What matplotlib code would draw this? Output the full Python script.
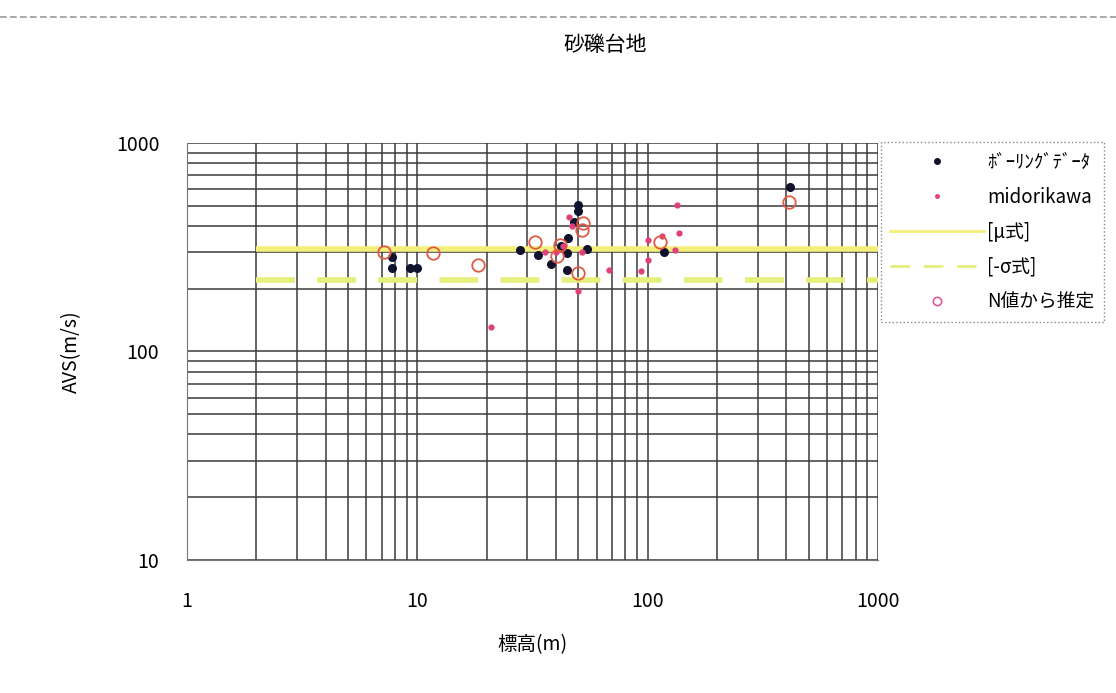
import matplotlib
matplotlib.use("Agg")
import matplotlib.pyplot as plt
from matplotlib.lines import Line2D

plt.rcParams["font.family"] = ["Noto Sans CJK JP", "DejaVu Sans"]

# ボーリングデータ (black dots)
boring_x = [7.8, 7.8, 9.3, 10, 28, 33.5, 38, 42, 44.5, 44.5, 45, 48, 50, 50, 54.4, 118, 415]
boring_y = [284, 251, 251, 251, 307, 290, 263, 320, 297, 246, 350, 420, 505, 470, 310, 299, 613]

# midorikawa (small pink dots)
mido_x = [20.9, 36, 40, 43, 45.7, 47, 49.7, 52, 68, 94, 100, 100.7, 115, 131, 134, 137]
mido_y = [131, 300, 300, 320, 443, 400, 194, 300, 246, 244, 275, 343, 356, 307, 505, 369]

# N値から推定 (hollow circles)
nval_x = [7.17, 11.7, 18.4, 32.4, 40.4, 41.6, 50, 51.9, 52.6, 113, 412]
nval_y = [301, 298, 260, 336, 287, 324, 237, 382, 412, 335, 523]

# formula lines
line_x = [2, 1000]
mu_y = [310, 310]
sigma_y = [220, 220]

fig = plt.figure(figsize=(11.16, 6.93), dpi=100)
ax = fig.add_axes([0.1676, 0.1919, 0.6191, 0.6018])
ax.set_xscale("log")
ax.set_yscale("log")
ax.set_xlim(1, 1000)
ax.set_ylim(10, 1000)

ax.grid(True, which="both", color="#3a3a3a", lw=1.1)
ax.set_axisbelow(True)
for s in ax.spines.values():
    s.set_color("#777777")
ax.spines["top"].set_visible(False)
ax.spines["right"].set_visible(False)
ax.tick_params(which="both", length=0, labelsize=14)
ax.tick_params(axis="x", pad=22)
ax.tick_params(axis="y", pad=20)
ax.set_xticks([1, 10, 100, 1000])
ax.set_xticklabels(["1", "10", "100", "1000"])
ax.set_yticks([10, 100, 1000])
ax.set_yticklabels(["10", "100", "1000"])

ax.plot(line_x, mu_y, color="#f4ef78", lw=4, solid_capstyle="butt", zorder=3)
ax.plot(line_x, sigma_y, color="#e6ee7c", lw=4, dashes=(7, 4), zorder=3)
ax.plot(boring_x, boring_y, "o", color="#10122e", ms=5.5, zorder=5)
ax.plot(mido_x, mido_y, "o", color="#e0407a", ms=3.5, zorder=6)
ax.plot(nval_x, nval_y, "o", mfc="none", mec="#e05a44", ms=9, mew=1.3, zorder=7)

ax.set_xlabel("標高(m)", fontsize=14, labelpad=16)
ax.set_ylabel("AVS(m/s)", fontsize=14, labelpad=24)
fig.text(0.542, 0.935, "砂礫台地", ha="center", va="center", fontsize=15)

# scan border line at the top
fig.add_artist(Line2D([0.0, 1.0], [0.975, 0.975], color="#999999", lw=1.2, ls=(0, (4, 2))))

handles = [
    Line2D([], [], ls="none", marker="o", color="#10122e", ms=4),
    Line2D([], [], ls="none", marker="o", color="#e0407a", ms=2.5),
    Line2D([], [], color="#f4ef78", lw=2),
    Line2D([], [], color="#e6ee7c", lw=2, dashes=(7, 5)),
    Line2D([], [], ls="none", marker="o", mfc="none", mec="#e05a9a", ms=6, mew=1.2),
]
labels = ["ﾎﾞｰﾘﾝｸﾞﾃﾞｰﾀ", "midorikawa", "[μ式]", "[-σ式]", "N値から推定"]
leg = fig.legend(handles, labels, loc="upper left", bbox_to_anchor=(0.789, 0.795),
                 fontsize=13.5, handlelength=5, handletextpad=0.2, labelspacing=0.75,
                 borderaxespad=0, borderpad=0.5, fancybox=False, framealpha=1)
leg.get_frame().set_edgecolor("#888888")
leg.get_frame().set_linestyle(":")

fig.savefig("out.png", dpi=100)
